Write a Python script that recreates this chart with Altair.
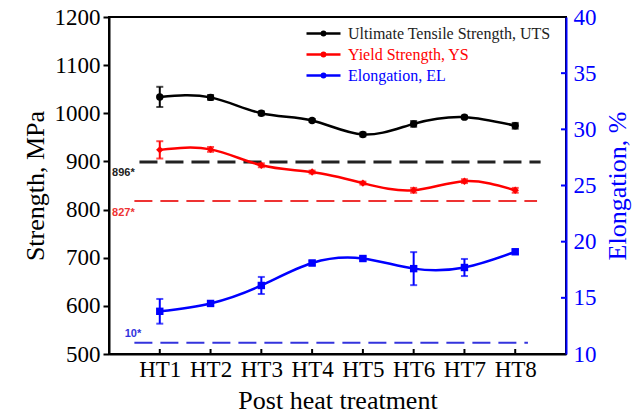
import altair as alt
import pandas as pd

# ---- data ----
treatments = ["HT1", "HT2", "HT3", "HT4", "HT5", "HT6", "HT7", "HT8"]
positions = [1, 2, 3, 4, 5, 6, 7, 8]

uts = [1034, 1033, 1000, 985, 956, 978, 992, 974]
uts_err = [21, 5, 4, 3, 4, 6, 3, 6]
ys = [924, 925, 892, 878, 855, 840, 859, 840]
ys_err = [18, 5, 4, 3, 3, 5, 4, 5]
el = [13.8, 14.5, 16.1, 18.1, 18.5, 17.6, 17.7, 19.1]
el_err = [1.1, 0.2, 0.76, 0.2, 0.2, 1.47, 0.76, 0.2]

series_names = ["Ultimate Tensile Strength, UTS", "Yield Strength, YS", "Elongation, EL"]
series_colors = ["#000000", "#ff0000", "#0000ff"]
series_shapes = ["circle", "diamond", "square"]

strength_ticks = [500, 600, 700, 800, 900, 1000, 1100, 1200]
el_ticks = [10, 15, 20, 25, 30, 35, 40]

# reference lines: strength limits (MPa) and elongation limit (%)
ref_strength_vals = [899, 818]
ref_strength_x1 = [0.6, 0.5]
ref_strength_x2 = [8.5, 8.43]
ref_strength_cols = ["#222222", "#ee3333"]
ref_strength_widths = [3, 2]
ref_strength_labels = ["896*", "827*"]
ref_strength_label_y = [876, 793]
ref_strength_label_x = [0.06, 0.06]

ref_el_val = [11.0]
ref_el_x1 = [0.5]
ref_el_x2 = [8.25]
ref_el_label = ["10*"]
ref_el_label_y = [11.8]
ref_el_label_x = [0.31]

# ---- tables ----
def series_table(name, vals, errs):
    return pd.DataFrame({
        "pos": positions, "treatment": treatments, "series": name, "value": vals,
        "lo": [v - e for v, e in zip(vals, errs)], "hi": [v + e for v, e in zip(vals, errs)],
    })

uts_df = series_table(series_names[0], uts, uts_err)
ys_df = series_table(series_names[1], ys, ys_err)
el_df = series_table(series_names[2], el, el_err)
strength_df = pd.concat([uts_df, ys_df], ignore_index=True)

sref_df = pd.DataFrame({"y": ref_strength_vals, "x1": ref_strength_x1, "x2": ref_strength_x2,
                        "col": ref_strength_cols, "w": ref_strength_widths,
                        "label": ref_strength_labels, "ly": ref_strength_label_y, "lx": ref_strength_label_x})
eref_df = pd.DataFrame({"y": ref_el_val, "x1": ref_el_x1, "x2": ref_el_x2,
                        "label": ref_el_label, "ly": ref_el_label_y, "lx": ref_el_label_x})

SERIF = "Liberation Serif"
X_MIN, X_MAX = 0, 9

xscale = alt.Scale(domain=[X_MIN, X_MAX], nice=False, zero=False)
xaxis = alt.Axis(values=positions, labelExpr="'HT' + datum.value", title="Post heat treatment",
                 grid=False, ticks=False, domainWidth=2, domainColor="black",
                 labelFont=SERIF, labelFontSize=23, labelColor="black", labelPadding=4,
                 titleFont=SERIF, titleFontSize=26, titleFontWeight="normal", titleColor="black",
                 titlePadding=6)
s_scale = alt.Scale(domain=[strength_ticks[0], strength_ticks[-1]], nice=False, zero=False)
e_scale = alt.Scale(domain=[el_ticks[0], el_ticks[-1]], nice=False, zero=False)

left_axis = alt.Axis(orient="left", values=strength_ticks, title="Strength, MPa",
                     format="d",
                     grid=False, tickSize=6, tickWidth=2, tickColor="black", domainWidth=2, domainColor="black",
                     labelFont=SERIF, labelFontSize=23, labelColor="black", labelPadding=3,
                     titleFont=SERIF, titleFontSize=26, titleFontWeight="normal", titleColor="black",
                     titlePadding=6)
right_axis = alt.Axis(orient="right", values=el_ticks, title="Elongation, %",
                      format="d",
                      grid=False, ticks=False, domainWidth=2, domainColor="#0000ff",
                      labelFont=SERIF, labelFontSize=23, labelColor="#0000ff", labelPadding=7,
                      titleFont=SERIF, titleFontSize=26, titleFontWeight="normal", titleColor="#0000ff",
                      titlePadding=8, titleAngle=270, titleBaseline="top")

color_scale = alt.Scale(domain=series_names, range=series_colors)

legend = alt.Legend(
    orient="none", legendX=196, legendY=6, title=None, padding=0, offset=0,
    symbolType="M-1,0H1M0.1,0A0.1,0.1,0,1,1,-0.1,0A0.1,0.1,0,1,1,0.1,0",
    symbolSize=1156, symbolStrokeWidth=2.5, clipHeight=21, rowPadding=0,
    labelFont=SERIF, labelFontSize=16, labelOffset=6, labelLimit=400,
    labelColor={"expr": "datum.label == 'Yield Strength, YS' ? '#ff0000' : datum.label == 'Elongation, EL' ? '#0000ff' : '#222222'"},
)
color_enc = alt.Color("series:N", scale=color_scale, legend=legend)


def group(df, lines_df, yscale, yaxis, name_list):
    x = alt.X("pos:Q", scale=xscale, axis=xaxis)
    layers = []
    layers.append(alt.Chart(lines_df).mark_line(interpolate="natural", strokeWidth=2.5).encode(
        x=x, y=alt.Y("value:Q", scale=yscale, axis=yaxis), color=color_enc))
    for name in name_list:
        i = series_names.index(name)
        sub = df[df["series"] == name]
        layers.append(alt.Chart(sub).mark_errorbar(ticks={"size": 7, "thickness": 2}, thickness=2,
                                                  color=series_colors[i]).encode(
            x=x, y=alt.Y("lo:Q", scale=yscale, axis=yaxis), y2="hi:Q"))
        layers.append(alt.Chart(sub).mark_point(filled=True, size=55, opacity=1, shape=series_shapes[i],
                                               color=series_colors[i]).encode(
            x=x, y=alt.Y("value:Q", scale=yscale, axis=yaxis)))
    return layers


# inward tick marks (bottom axis and right axis), drawn through the scales
bottom_ticks_df = pd.DataFrame({"pos": positions})
right_ticks_df = pd.DataFrame({"v": el_ticks[1:-1]})

bottom_ticks = alt.Chart(bottom_ticks_df).mark_rule(strokeWidth=2, color="black").encode(
    x=alt.X("pos:Q", scale=xscale, axis=xaxis),
    y=alt.value(337), y2=alt.value(332),
)

# ---- strength group (left axis) ----
s_rule = alt.Chart(sref_df).mark_rule(strokeDash=[18, 8]).encode(
    x=alt.X("x1:Q", scale=xscale, axis=xaxis), x2="x2:Q",
    y=alt.Y("y:Q", scale=s_scale, axis=left_axis),
    color=alt.Color("col:N", scale=None),
    strokeWidth=alt.StrokeWidth("w:Q", scale=None),
)
s_text = alt.Chart(sref_df).mark_text(font="Liberation Sans", fontWeight="bold", fontSize=11,
                                      align="left", baseline="middle").encode(
    x=alt.X("lx:Q", scale=xscale, axis=xaxis),
    y=alt.Y("ly:Q", scale=s_scale, axis=left_axis),
    text="label:N",
    color=alt.Color("col:N", scale=None),
)
strength_layer = alt.layer(s_rule, s_text,
                           *group(strength_df, strength_df, s_scale, left_axis, series_names[:2]))

# ---- elongation group (right axis) ----
e_rule = alt.Chart(eref_df).mark_rule(strokeDash=[18, 8], strokeWidth=2, color="#3333dd").encode(
    x=alt.X("x1:Q", scale=xscale, axis=xaxis), x2="x2:Q",
    y=alt.Y("y:Q", scale=e_scale, axis=right_axis),
)
e_text = alt.Chart(eref_df).mark_text(font="Liberation Sans", fontWeight="bold", fontSize=11,
                                      align="left", baseline="middle", color="#3333dd").encode(
    x=alt.X("lx:Q", scale=xscale, axis=xaxis),
    y=alt.Y("ly:Q", scale=e_scale, axis=right_axis),
    text="label:N",
)
e_ticks = alt.Chart(right_ticks_df).mark_rule(strokeWidth=2, color="#0000ff").encode(
    x=alt.value(457), x2=alt.value(452),
    y=alt.Y("v:Q", scale=e_scale, axis=right_axis),
)
el_layer = alt.layer(e_rule, e_text, e_ticks, *group(el_df, el_df, e_scale, right_axis, series_names[2:]))

chart = alt.layer(alt.layer(bottom_ticks, strength_layer), el_layer).resolve_scale(y="independent").properties(
    width=457, height=337,
    autosize=alt.AutoSizeParams(type="none"),
    padding={"left": 101, "top": 9, "right": 70, "bottom": 62},
    background="white",
).configure(
    font=SERIF,
    style={"guide-label": {"font": SERIF}, "guide-title": {"font": SERIF}},
).configure_view(stroke="black", strokeWidth=2).configure_axis(
    labelFont=SERIF, titleFont=SERIF
).configure_legend(labelFont=SERIF)

chart.save("out.html", embed_options={"renderer": "svg", "actions": False})
